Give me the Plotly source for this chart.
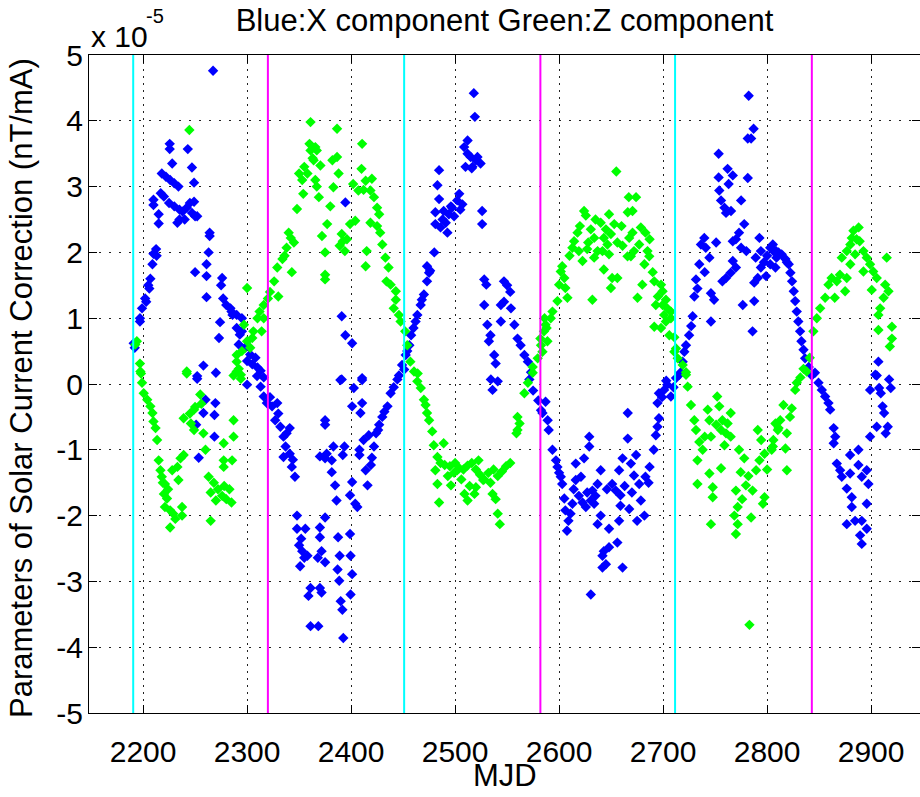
import plotly.graph_objects as go

# ---- data (values in units of 1e-5 nT/mA) ----
# Blue: X component, (MJD, value)
x_component = [
    (2267.3, 4.76), (2225.6, 3.65), (2225.6, 3.57), (2243, 3.57), (2247, 3.29), (2228, 3.35),
    (2249, 3.06), (2218, 3.2), (2222, 3.15), (2226, 3.1), (2230, 3.05), (2234, 3.0),
    (2217, 2.9), (2220, 2.85), (2225, 2.75), (2230, 2.7), (2235, 2.65), (2238, 2.62),
    (2242, 2.68), (2245, 2.75), (2247, 2.6), (2250, 2.55), (2252, 2.55), (2240, 2.5),
    (2235, 2.5), (2210, 2.8), (2210, 2.72), (2249, 2.77), (2215, 2.58), (2215, 2.44),
    (2233, 2.45), (2264, 2.3), (2264, 2.25), (2263, 2.0), (2261, 1.82), (2261, 1.64),
    (2250, 1.7), (2261, 1.32), (2212.5, 2.05), (2213, 1.95), (2210, 1.98), (2209, 1.82),
    (2207, 1.6), (2205, 1.5), (2202, 1.3), (2199, 1.15), (2197, 1.0), (2197, 0.95),
    (2206, 1.45), (2203, 1.25), (2276, 1.61), (2275, 1.5), (2277, 1.3), (2280, 1.2),
    (2285, 1.1), (2290, 1.05), (2295, 1.0), (2284, 1.15), (2286, 1.05), (2274, 0.94),
    (2273, 0.7), (2290, 0.85), (2293, 0.75), (2295, 0.8), (2303, 0.45), (2308, 0.4),
    (2313, 0.2), (2316, 0.1), (2258, 0.28), (2252, 0.08), (2270, 0.17), (2191, 0.62),
    (2192, 0.55), (2292, 0.6), (2298, 0.55), (2300, 0.35), (2305, 0.3), (2310, 0.25),
    (2252, 0.12), (2260, -0.24), (2258, -0.44), (2269.5, -0.29), (2268.6, -0.47),
    (2268.6, -0.8), (2253.5, -1.12), (2251, -0.62), (2300, -0.01), (2309.6, 0.12),
    (2313, -0.04), (2316, -0.19), (2319, -0.29), (2324, -0.34), (2329, -0.29), (2327, -0.55),
    (2332, -0.65), (2335, -0.8), (2338, -0.75), (2341, -0.67), (2337, -0.95), (2335, -1.11),
    (2341, -1.06), (2343, -1.26), (2346, -1.41), (2348, -2.0), (2348, -2.2), (2356, -2.2),
    (2353, -2.54), (2355, -2.64), (2351, -2.77), (2361, -3.1), (2359, -3.22), (2361, -3.68),
    (2358, -2.61), (2370, -1.1), (2322, -0.2), (2330, -0.45), (2344, -1.15), (2352, -2.35),
    (2350, -2.45),
    (2518, 4.42), (2519, 4.06), (2508.7, 3.6), (2512, 3.5), (2515, 3.45), (2520, 3.4),
    (2524.5, 3.35), (2510, 3.3), (2516, 3.28), (2512, 3.7), (2516.7, 3.3), (2521.5, 3.45),
    (2484.6, 3.25), (2483, 3.02), (2484.6, 2.81), (2481, 2.61), (2481, 2.43), (2486, 2.38),
    (2492.6, 2.3), (2494, 2.58), (2497, 2.68), (2502, 2.79), (2504, 2.89), (2507, 2.73),
    (2496, 2.7), (2489, 2.63), (2491, 2.45), (2526, 2.63), (2526, 2.43), (2480, 2.0),
    (2473, 1.79), (2475, 1.69), (2473, 1.56), (2470, 1.36), (2466.9, 1.2), (2463.7, 1.05),
    (2462, 0.95), (2457.7, 0.74), (2456, 0.59), (2452.5, 0.44), (2449, 0.29), (2446, 0.13),
    (2394.5, 2.76), (2391, 1.03), (2394.5, 0.74), (2401, 0.62), (2389.7, 0.06), (2410.6, 0.06),
    (2528, 1.59), (2530, 1.51), (2528, 1.2), (2547, 1.56), (2550, 1.5), (2553, 1.4),
    (2547, 1.25), (2544, 1.2), (2553.7, 1.15), (2557, 0.9), (2560, 0.69), (2563, 0.59),
    (2566.6, 0.44), (2570, 0.34), (2573, 0.18), (2531, 0.9), (2534, 0.74), (2532.5, 0.65),
    (2537.6, 0.44), (2539, 0.31), (2544, 0.95), (2468, 1.28), (2460, 0.85), (2454, 0.5),
    (2499, 2.55), (2488, 2.5), (2505, 2.65), (2476, 1.72),
    (2391, 0.07), (2410.6, 0.09), (2402.6, -0.06), (2401, -0.34), (2410.6, -0.29),
    (2409, -0.44), (2375, -0.55), (2375, -0.62), (2451, 0.22), (2444.5, 0.07), (2438, -0.14),
    (2435, -0.34), (2430, -0.5), (2427, -0.62), (2424, -0.75), (2417, -0.78), (2422, -0.95),
    (2419, -1.23), (2414, -1.31), (2415.8, -1.54), (2408, -1.0), (2408, -1.08),
    (2393.6, -0.95), (2392, -1.08), (2383, -0.95), (2376.5, -1.06), (2375, -1.13),
    (2381.4, -1.16), (2381.4, -1.34), (2384.6, -1.54), (2386, -1.77), (2401, -1.49),
    (2399, -1.69), (2404, -1.82), (2406, -1.87), (2375, -2.03), (2370, -2.18), (2370, -2.33),
    (2371.6, -2.54), (2368, -2.64), (2375, -2.71), (2387.5, -2.33), (2389, -2.61),
    (2399, -2.28), (2399.5, -2.61), (2401, -2.89), (2387, -2.82), (2388.6, -2.99),
    (2370, -3.1), (2371.6, -3.17), (2399.5, -3.2), (2390, -3.3), (2391.6, -3.43),
    (2368.5, -3.68), (2392.5, -3.86), (2534.4, 0.07), (2536, -0.09), (2541, 0.04),
    (2571.4, 0.07), (2575, -0.1), (2580, -0.25), (2582.6, -0.4), (2441, -0.05),
    (2432, -0.42), (2426, -0.7), (2412, -0.85), (2420, -1.12),
    (2782.3, 4.38), (2787, 3.88), (2781.4, 3.73), (2784.6, 3.73), (2753.4, 3.5), (2762, 3.27),
    (2767, 3.17), (2753.4, 3.14), (2763, 3.04), (2781.4, 3.13), (2754, 2.94), (2755.7, 2.79),
    (2759, 2.68), (2765.3, 2.63), (2760.5, 2.6), (2775, 2.79), (2778, 2.43), (2773, 2.3),
    (2770, 2.2), (2767, 2.17), (2775, 2.07), (2780, 2.02), (2792.6, 2.22), (2794, 2.02),
    (2805.5, 2.12), (2808.7, 2.02), (2739.6, 2.22), (2736.4, 2.12), (2741, 2.07),
    (2751, 2.15), (2744.5, 1.92), (2734.8, 1.82), (2731.6, 1.59), (2730, 1.33), (2746, 1.38),
    (2749, 1.28), (2757, 1.56), (2760.5, 1.61), (2765, 1.69), (2770, 1.77), (2767, 1.87),
    (2789, 1.92), (2794, 1.77), (2799, 1.64), (2787.6, 1.54), (2791, 1.61), (2776.6, 1.2),
    (2787.6, 1.26), (2786, 0.8), (2746, 0.95), (2728.4, 1.03), (2727, 0.88), (2725, 0.74),
    (2722, 0.59), (2720.4, 0.49), (2718.8, 0.34), (2717, 0.18), (2797, 1.85), (2800, 1.95),
    (2740, 1.7), (2733, 1.45),
    (2587, -0.27), (2584, -0.44), (2589, -0.55), (2590, -0.7), (2593.6, -1.0), (2597, -1.16),
    (2598.4, -1.26), (2601.6, -1.41), (2603, -1.52), (2605, -1.74), (2606, -1.92),
    (2609, -2.08), (2607.6, -2.23), (2612.8, -1.82), (2611, -1.97), (2616, -1.46),
    (2616, -1.21), (2621, -1.41), (2624, -1.13), (2622.5, -1.8), (2625.7, -1.87),
    (2629, -0.8), (2629, -0.95), (2630.5, -1.77), (2632, -1.62), (2633.7, -1.82),
    (2637, -1.52), (2640, -1.31), (2637, -2.13), (2640, -2.0), (2643, -2.54), (2641.7, -2.61),
    (2645, -2.74), (2641.7, -2.79), (2648, -2.2), (2648, -2.48), (2656, -2.41),
    (2657.7, -2.08), (2651, -1.52), (2654.5, -1.62), (2659, -1.69), (2657.7, -1.31),
    (2661, -1.13), (2666, -0.44), (2666, -0.83), (2669, -1.21), (2674, -1.08), (2672, -1.39),
    (2667.4, -1.9), (2659, -1.85), (2675, -2.08), (2678.6, -1.77), (2682, -2.0), (2677, -1.52),
    (2683, -1.41), (2687, -1.26), (2691, -1.0), (2693, -0.78), (2694.6, -0.65), (2696, -0.52),
    (2694.6, -0.29), (2696, -0.14), (2701, -0.09), (2704, -0.01), (2707.5, -0.19),
    (2712.4, 0.09), (2715.6, 0.14), (2630.5, -3.2), (2661, -2.79), (2600, -1.35),
    (2614, -1.6), (2619, -1.7), (2627, -1.65), (2635, -1.7), (2646, -1.6), (2663, -1.55),
    (2670, -1.65), (2686, -1.5), (2699, -0.2), (2703, 0.05), (2710, -0.05),
    (2803, 2.07), (2806, 2.02), (2809, 1.92), (2814, 1.97), (2817.6, 1.9), (2820.8, 1.82),
    (2822.4, 1.69), (2824, 1.56), (2825.6, 1.41), (2827, 1.26), (2828.5, 1.1), (2830, 0.95),
    (2831.7, 0.8), (2833, 0.65), (2835, 0.52), (2836.5, 0.39), (2840, 0.26), (2843, 0.13),
    (2803, 1.82), (2808, 1.77), (2907, 0.34), (2905.4, 0.13), (2811, 2.0), (2819, 1.85),
    (2846, 0.17), (2849.4, 0.02), (2852.6, -0.09), (2855.8, -0.19), (2859, -0.29),
    (2860.6, -0.39), (2864, -0.67), (2865.5, -0.8), (2864, -0.9), (2867, -1.21),
    (2870.2, -1.31), (2871.8, -1.41), (2879.8, -1.08), (2887.8, -1.0), (2887.8, -1.23),
    (2879.8, -1.36), (2876.6, -1.59), (2881.4, -1.72), (2881.4, -1.87), (2876.6, -2.13),
    (2884.6, -2.08), (2891, -2.08), (2889.4, -2.3), (2891, -2.43), (2895.8, -1.82),
    (2897.4, -1.52), (2895.8, -1.31), (2891, -1.41), (2895.8, -2.2), (2904, 0.14),
    (2899, -0.09), (2907.7, -0.06), (2909.3, -0.14), (2917.3, 0.07), (2918.9, -0.06),
    (2911, -0.34), (2912.5, -0.44), (2905.4, -0.65), (2899, -0.8), (2916, -0.65), (2914, -0.75),
]

# Green: Z component, (MJD, value)
z_component = [
    (2244.5, 3.86), (2194, 0.65), (2192.5, 0.6), (2197, 0.31), (2198, 0.16), (2242, 0.16),
    (2290, 0.34), (2295, 0.5), (2300, 0.65), (2300, 1.46), (2306, 0.8), (2310, 1.0),
    (2316, 1.2), (2322, 1.4), (2326, 1.56), (2329, 1.77), (2334, 1.9), (2338, 2.07),
    (2342, 2.22), (2345, 2.15), (2343, 1.7), (2330, 1.33), (2316, 1.0), (2297, 0.9),
    (2305, 0.7), (2314, 0.8), (2348, 2.66), (2354, 2.89), (2350, 3.2), (2355, 3.3),
    (2360, 3.65), (2361, 3.55), (2361, 3.98), (2363, 3.43), (2367, 3.0), (2358, 3.2),
    (2353, 3.1), (2290, 0.44), (2292, 0.23), (2287, 0.13), (2294, 0.08), (2320, 1.3),
    (2336, 1.95), (2312, 1.1), (2303, 0.55), (2340, 2.3),
    (2197.4, 0.19), (2199, 0.02), (2200.6, -0.14), (2204, -0.24), (2207, -0.34), (2209, -0.44),
    (2210, -0.57), (2212, -0.67), (2213.5, -0.85), (2215, -1.16), (2216.7, -1.31),
    (2218, -1.41), (2221, -1.52), (2220, -1.67), (2223, -1.74), (2221, -1.87), (2226, -1.92),
    (2226, -2.18), (2229, -1.97), (2237.5, -1.87), (2237.5, -2.0), (2233, -1.26),
    (2236, -1.13), (2239, -1.08), (2234, -1.46), (2228, -1.31), (2242, 0.19), (2239, -0.52),
    (2245, -0.45), (2250, -0.35), (2256, -0.3), (2255, -0.16), (2249, -0.39), (2246, -0.6),
    (2249, -0.7), (2258, -0.75), (2260, -1.0), (2265, -2.08), (2277.5, -0.9), (2287, -0.8),
    (2287, -0.55), (2277.5, -1.16), (2285.6, -1.16), (2277.5, -1.26), (2263, -1.41),
    (2268, -1.5), (2272, -1.6), (2276, -1.7), (2280, -1.75), (2285, -1.8), (2278, -1.55),
    (2270, -1.77), (2265, -1.65), (2283, -1.6), (2290, 0.19), (2294, 0.14), (2224, -1.6),
    (2231, -2.05), (2219, -1.5),
    (2386.5, 3.88), (2410.6, 3.65), (2365.6, 3.6), (2367, 3.55), (2364, 3.4), (2370.5, 3.32),
    (2365.6, 3.1), (2369, 2.84), (2382, 3.4), (2386.5, 3.45), (2388, 3.2), (2383, 2.99),
    (2380, 2.7), (2377, 2.43), (2372, 2.25), (2375, 2.0), (2375, 1.66), (2375, 1.59),
    (2391, 2.28), (2392, 2.17), (2394, 2.02), (2399, 2.43), (2404, 2.48), (2402, 3.04),
    (2407, 2.94), (2410, 3.27), (2414, 3.09), (2420, 3.12), (2418.6, 2.94), (2422, 2.84),
    (2425, 2.68), (2427, 2.58), (2418.6, 2.45), (2425, 2.4), (2430, 2.12), (2415, 2.02),
    (2414, 1.79), (2433, 1.92), (2436, 1.77), (2434, 1.56), (2438, 1.51), (2443, 1.41),
    (2443, 1.28), (2441, 1.15), (2446, 1.05), (2447.6, 0.95), (2452, 0.8), (2454, 0.59),
    (2457, 0.34), (2464, 0.16), (2586, 1.0), (2588, 0.85), (2582.6, 0.59), (2579.4, 0.39),
    (2574.6, 0.26), (2396, 2.2), (2412, 2.95), (2428, 2.3), (2389, 2.1),
    (2460.5, 0.19), (2463.7, 0.04), (2467, -0.06), (2470, -0.24), (2471.6, -0.32),
    (2473, -0.44), (2475, -0.55), (2478, -0.72), (2479.5, -0.93), (2489, -0.9), (2483, -1.11),
    (2486, -1.2), (2490, -1.23), (2495, -1.25), (2500, -1.2), (2504, -1.28), (2508, -1.3),
    (2512, -1.24), (2516, -1.2), (2520, -1.3), (2524, -1.38), (2528, -1.45), (2532, -1.35),
    (2537, -1.3), (2541, -1.4), (2545, -1.33), (2549, -1.25), (2553, -1.2), (2481, -1.31),
    (2483, -1.52), (2484.6, -1.8), (2496, -1.54), (2502, -1.31), (2509, -1.67), (2512, -1.77),
    (2518.6, -1.67), (2520, -1.57), (2536, -1.67), (2539, -1.75), (2541, -1.97),
    (2543, -2.13), (2527, -1.46), (2522.5, -1.16), (2560, -0.5), (2562, -0.6), (2560, -0.7),
    (2559, -0.75), (2566.6, -0.14), (2570, 0.02), (2574.6, 0.17), (2493, -1.4),
    (2506, -1.45), (2514, -1.55), (2534, -1.5), (2499, -1.35),
    (2655, 3.23), (2667, 2.84), (2674, 2.84), (2666, 2.61), (2670.6, 2.63), (2624, 2.63),
    (2625.7, 2.56), (2648, 2.58), (2640, 2.45), (2653, 2.43), (2630.5, 2.35), (2670.6, 2.3),
    (2678.6, 2.38), (2683, 2.3), (2687, 2.2), (2617.7, 2.3), (2614.4, 2.17), (2612.8, 2.07),
    (2619, 2.02), (2627, 2.05), (2633.7, 2.22), (2637, 2.02), (2643, 2.22), (2646.5, 2.12),
    (2649.8, 2.28), (2656, 2.15), (2661, 2.1), (2667.4, 2.22), (2665.8, 1.94), (2672, 2.02),
    (2677, 2.12), (2685, 2.02), (2686.7, 1.94), (2641.7, 2.02), (2622.5, 1.87), (2648, 1.97),
    (2633.7, 1.92), (2643, 1.74), (2651, 1.61), (2656, 1.61), (2649.8, 1.46), (2632, 1.28),
    (2669, 1.94), (2682, 1.82), (2680, 1.51), (2675.4, 1.31), (2691.5, 1.56), (2698, 1.51),
    (2699.5, 1.41), (2695, 1.33), (2702.7, 1.28), (2693, 1.2), (2699.5, 1.2), (2704, 1.15),
    (2707.5, 1.1), (2701, 1.05), (2702.7, 0.95), (2691.5, 0.87), (2698, 0.85), (2707.5, 1.0),
    (2706, 0.74), (2603, 1.79), (2601.6, 1.71), (2605, 1.61), (2600, 1.51), (2606, 1.46),
    (2608, 1.31), (2598.4, 1.26), (2593.6, 1.1), (2592, 1.0), (2587, 0.9), (2585.5, 0.8),
    (2582, 0.69), (2588.8, 0.65), (2584, 0.49), (2710.8, 0.71), (2712.4, 0.54),
    (2710.8, 0.49), (2714, 0.39), (2718.8, 0.29), (2722, 0.18), (2620, 2.4), (2635, 2.5),
    (2660, 2.4), (2645, 2.35), (2628, 2.15), (2610, 1.95), (2690, 1.7),
    (2722, 0.14), (2723.6, -0.04), (2726.8, -0.32), (2730, -0.55), (2731.6, -0.7),
    (2734.8, -0.88), (2738, -1.0), (2733, -1.16), (2733, -1.52), (2742.9, -0.39),
    (2744.5, -0.55), (2746, -0.8), (2744.5, -1.36), (2747.7, -1.57), (2747.7, -1.72),
    (2752, -0.19), (2754, -0.34), (2751, -0.62), (2755.7, -0.7), (2760.5, -0.75),
    (2759, -0.93), (2765, -0.44), (2765, -0.8), (2755.7, -1.28), (2757, -0.55), (2773, -1.0),
    (2778, -1.13), (2774.6, -1.34), (2779.6, -1.54), (2770, -1.62), (2786, -1.62),
    (2791, -0.7), (2794.3, -0.85), (2792.6, -1.16), (2797.5, -1.06), (2797.5, -1.72),
    (2796, -1.82), (2789.4, -1.31), (2771.7, -1.87), (2771.7, -2.13), (2768.5, -2.0),
    (2770, -2.28), (2784.6, -2.03), (2746, -2.13), (2783, -3.66), (2805.5, -0.95),
    (2810.3, -0.7), (2762, -0.6), (2782, -1.4), (2776, -1.75), (2800, -1.3), (2740, -0.8),
    (2844.5, 0.8), (2847.8, 1.0), (2851, 1.15), (2855.8, 1.31), (2859, 1.51), (2862, 1.61),
    (2867, 1.56), (2870, 1.66), (2865, 1.31), (2875, 1.41), (2871.8, 1.92), (2876.6, 2.02),
    (2880, 2.12), (2881.4, 2.22), (2883, 2.33), (2888, 2.38), (2886, 2.2), (2889, 2.17),
    (2884.6, 1.97), (2880, 1.82), (2892.6, 2.02), (2895.8, 1.92), (2899, 1.82), (2902, 1.71),
    (2905.4, 1.61), (2900.6, 1.43), (2915, 1.92), (2913.5, 1.51), (2916.7, 1.41),
    (2912, 1.31), (2908.7, 1.15), (2907, 1.05), (2907, 0.82), (2920, 0.87), (2920, 0.69),
    (2918, 0.57), (2892.6, 1.71), (2876.6, 1.61), (2835, 0.23),
    (2838, 0.19), (2828.5, 0.02), (2827, -0.09), (2815.7, -0.32), (2823.7, -0.37),
    (2822, -0.5), (2812.6, -0.55), (2811, -0.67), (2819, -0.75), (2806, -0.85),
    (2804.4, -1.0), (2817.6, -0.98), (2819, -1.31), (2832, 0.1), (2841, 0.4), (2808, -0.6),
]

cyan_lines_mjd = [2190.5, 2451, 2711.5]
magenta_lines_mjd = [2320, 2582, 2843]

x_ticks = [2200, 2300, 2400, 2500, 2600, 2700, 2800, 2900]
y_ticks = [-5, -4, -3, -2, -1, 0, 1, 2, 3, 4, 5]
y_ticklabels = ["-5", "-4", "-3", "-2", "-1", "0", "1", "2", "3", "4", "5"]

FONT = "Liberation Sans, Arial, Helvetica, sans-serif"

fig = go.Figure()
fig.add_trace(go.Scatter(
    x=[p[0] for p in x_component], y=[p[1] for p in x_component], mode="markers",
    marker=dict(symbol="diamond", size=8, color="#0000FF", line=dict(width=0)),
    name="X component", showlegend=False))
fig.add_trace(go.Scatter(
    x=[p[0] for p in z_component], y=[p[1] for p in z_component], mode="markers",
    marker=dict(symbol="diamond", size=8, color="#00FF00", line=dict(width=0)),
    name="Z component", showlegend=False))
for v in cyan_lines_mjd:
    fig.add_trace(go.Scatter(x=[v, v], y=[y_ticks[0], y_ticks[-1]], mode="lines",
                             line=dict(color="#00FFFF", width=2), showlegend=False, hoverinfo="skip"))
for v in magenta_lines_mjd:
    fig.add_trace(go.Scatter(x=[v, v], y=[y_ticks[0], y_ticks[-1]], mode="lines",
                             line=dict(color="#FF00FF", width=2), showlegend=False, hoverinfo="skip"))

axis_common = dict(
    showline=True, linecolor="black", linewidth=1, mirror="ticks",
    ticks="inside", ticklen=8, tickcolor="black", tickwidth=1,
    showgrid=True, gridcolor="#222222", gridwidth=1,
    zeroline=False, tickfont=dict(family=FONT, size=30, color="black"),
)

fig.update_layout(
    width=920, height=797,
    margin=dict(l=89, r=0, t=55, b=84),
    paper_bgcolor="white", plot_bgcolor="white",
    font=dict(family=FONT, color="black"),
    title=dict(text="Blue:X component Green:Z component", x=0.5, xref="paper",
               y=1 - 20 / 797, yref="container", xanchor="center", yanchor="middle",
               font=dict(family=FONT, size=31, color="black")),
    xaxis=dict(range=[2148, 2947], tickvals=x_ticks, griddash="2px,5px",
               ticklabelstandoff=12, **axis_common),
    yaxis=dict(range=[-5, 5], tickvals=y_ticks, ticktext=y_ticklabels, griddash="2px,8px",
               ticklabelstandoff=-1, **axis_common),
    showlegend=False,
)

fig.add_annotation(text="MJD", xref="paper", yref="paper", x=0.5, y=-(775 - 713) / 658,
                   xanchor="center", yanchor="middle", showarrow=False,
                   font=dict(family=FONT, size=31, color="black"))
fig.add_annotation(text="Parameters of Solar Current Correction (nT/mA)", textangle=-90,
                   xref="paper", yref="paper", x=(21 - 89) / 831, y=0.5, yshift=-4,
                   xanchor="center", yanchor="middle", showarrow=False,
                   font=dict(family=FONT, size=31, color="black"))
fig.add_annotation(text="x 10", xref="paper", yref="paper", x=0, y=1, xanchor="left",
                   yanchor="middle", yshift=19, showarrow=False,
                   font=dict(family=FONT, size=30, color="black"))
fig.add_annotation(text="-5", xref="paper", yref="paper", x=(144 - 89) / 831, y=1,
                   xanchor="left", yanchor="middle", yshift=39, showarrow=False,
                   font=dict(family=FONT, size=20, color="black"))

fig.write_html("out.html", config={"displayModeBar": False},
               post_script="document.body.style.margin='0px';")
